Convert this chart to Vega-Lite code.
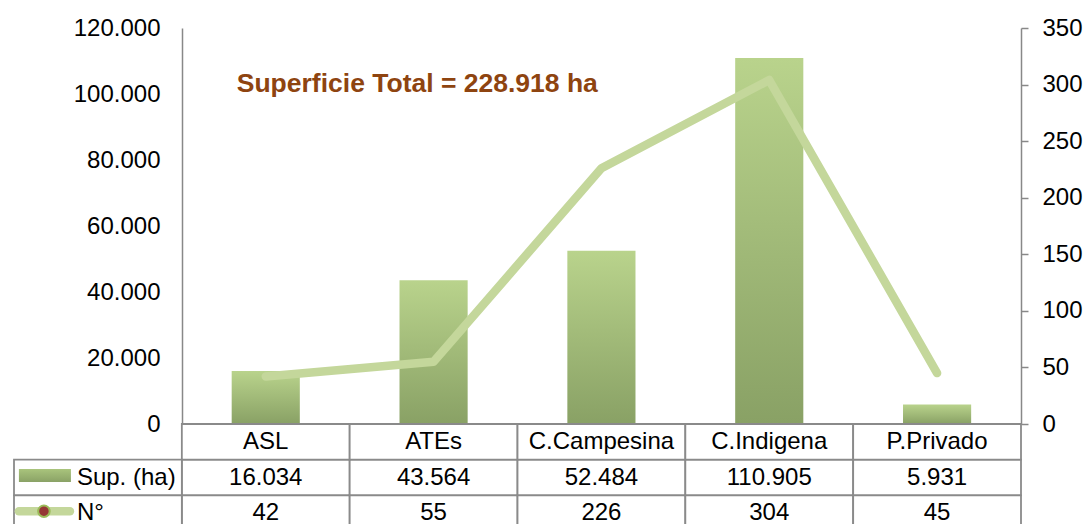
{
  "$schema": "https://vega.github.io/schema/vega-lite/v6.json",
  "padding": {"left": 1, "top": 16, "right": 0, "bottom": 0},
  "background": "white",
  "spacing": 0,
  "bounds": "flush",
  "datasets": {
    "main": [
      {"cat": "ASL", "sup": 16034, "n": 42},
      {"cat": "ATEs", "sup": 43564, "n": 55},
      {"cat": "C.Campesina", "sup": 52484, "n": 226},
      {"cat": "C.Indigena", "sup": 110905, "n": 304},
      {"cat": "P.Privado", "sup": 5931, "n": 45}
    ]
  },
  "config": {
    "view": {"stroke": null},
    "font": "Liberation Sans",
    "locale": {"number": {"decimal": ",", "thousands": ".", "grouping": [3], "currency": ["$", ""]}},
    "axis": {
      "labelFont": "Liberation Sans",
      "labelFontSize": 24,
      "labelColor": "#000000",
      "domainColor": "#888888",
      "domainWidth": 1.5,
      "tickColor": "#888888",
      "tickWidth": 1.5,
      "grid": false,
      "title": null
    }
  },
  "vconcat": [
    {
      "width": 1007,
      "height": 396,
      "data": {"name": "main"},
      "encoding": {
        "x": {
          "field": "cat",
          "type": "nominal",
          "sort": null,
          "scale": {"domain": ["_", "ASL", "ATEs", "C.Campesina", "C.Indigena", "P.Privado"], "paddingInner": 0, "paddingOuter": 0},
          "axis": null
        }
      },
      "layer": [
        {
          "layer": [
            {
              "mark": {
                "type": "bar",
                "width": {"band": 0.406},
                "color": {
                  "gradient": "linear",
                  "x1": 0, "y1": 0, "x2": 0, "y2": 1,
                  "stops": [
                    {"offset": 0, "color": "#b9d38c"},
                    {"offset": 1, "color": "#89a165"}
                  ]
                }
              },
              "encoding": {
                "y": {
                  "field": "sup",
                  "type": "quantitative",
                  "scale": {"domain": [0, 120000], "nice": false},
                  "axis": {
                    "orient": "left",
                    "offset": -168,
                    "ticks": false,
                    "labelPadding": 22,
                    "values": [0, 20000, 40000, 60000, 80000, 100000, 120000],
                    "format": ",d"
                  }
                }
              }
            },
            {
              "data": {"values": [{}]},
              "mark": {
                "type": "text",
                "text": "Superficie Total = 228.918 ha",
                "font": "Liberation Sans",
                "fontSize": 26.5,
                "fontWeight": "bold",
                "color": "#8e4410",
                "align": "left",
                "baseline": "middle",
                "dx": -29
              },
              "encoding": {
                "x": {"datum": "ASL", "type": "nominal"},
                "y": {"datum": 103000, "type": "quantitative"}
              }
            }
          ]
        },
        {
          "mark": {
            "type": "line",
            "color": "#c4d79b",
            "strokeWidth": 8.5,
            "strokeCap": "round",
            "strokeJoin": "round"
          },
          "encoding": {
            "y": {
              "field": "n",
              "type": "quantitative",
              "scale": {"domain": [0, 350], "nice": false},
              "axis": {
                "orient": "right",
                "tickSize": 7,
                "labelPadding": 14,
                "values": [0, 50, 100, 150, 200, 250, 300, 350]
              }
            }
          }
        }
      ],
      "resolve": {"scale": {"y": "independent"}, "axis": {"y": "independent"}}
    },
    {
      "width": 1007,
      "height": 107,
      "layer": [
        {
          "data": {"name": "main"},
          "transform": [{"fold": ["sup", "n"], "as": ["key", "value"]}],
          "encoding": {
            "x": {"field": "cat", "type": "nominal", "sort": null, "scale": {"domain": ["_", "ASL", "ATEs", "C.Campesina", "C.Indigena", "P.Privado"], "paddingInner": 0, "paddingOuter": 0}, "axis": null},
            "y": {"field": "key", "type": "nominal", "sort": null, "scale": {"domain": ["cat", "sup", "n"], "paddingInner": 0, "paddingOuter": 0}, "axis": null}
          },
          "layer": [
            {"mark": {"type": "rect", "fill": "white", "stroke": "#8a8a8a", "strokeWidth": 1.8}},
            {
              "mark": {"type": "text", "fontSize": 24, "font": "Liberation Sans", "color": "#000000", "baseline": "middle"},
              "encoding": {"text": {"field": "value", "type": "quantitative", "format": ",d"}}
            }
          ]
        },
        {
          "data": {"name": "main"},
          "encoding": {
            "x": {"field": "cat", "type": "nominal", "sort": null, "scale": {"domain": ["_", "ASL", "ATEs", "C.Campesina", "C.Indigena", "P.Privado"], "paddingInner": 0, "paddingOuter": 0}, "axis": null},
            "y": {"datum": "cat", "type": "nominal", "scale": {"domain": ["cat", "sup", "n"], "paddingInner": 0, "paddingOuter": 0}, "axis": null}
          },
          "layer": [
            {"mark": {"type": "rect", "fill": "white", "stroke": "#8a8a8a", "strokeWidth": 1.8}},
            {
              "mark": {"type": "text", "fontSize": 24, "font": "Liberation Sans", "color": "#000000", "baseline": "middle"},
              "encoding": {"text": {"field": "cat", "type": "nominal"}}
            }
          ]
        },
        {
          "data": {"values": [{"key": "sup", "label": "Sup. (ha)"}, {"key": "n", "label": "N°"}]},
          "encoding": {
            "x": {"datum": "_", "type": "nominal", "scale": {"domain": ["_", "ASL", "ATEs", "C.Campesina", "C.Indigena", "P.Privado"], "paddingInner": 0, "paddingOuter": 0}, "axis": null},
            "y": {"field": "key", "type": "nominal", "sort": null, "scale": {"domain": ["cat", "sup", "n"], "paddingInner": 0, "paddingOuter": 0}, "axis": null}
          },
          "layer": [
            {"mark": {"type": "rect", "fill": "white", "stroke": "#8a8a8a", "strokeWidth": 1.8}},
            {
              "mark": {"type": "text", "fontSize": 24, "font": "Liberation Sans", "color": "#000000", "baseline": "middle", "align": "left", "dx": -21},
              "encoding": {"text": {"field": "label", "type": "nominal"}}
            },
            {
              "transform": [{"filter": "datum.key == 'sup'"}],
              "mark": {
                "type": "point",
                "shape": "M-1,-0.25H1V0.25H-1Z",
                "size": 2704,
                "filled": true,
                "opacity": 1,
                "strokeWidth": 0,
                "xOffset": -53,
                "yOffset": -2,
                "color": {
                  "gradient": "linear",
                  "x1": 0, "y1": 0, "x2": 0, "y2": 1,
                  "stops": [
                    {"offset": 0, "color": "#a9c47c"},
                    {"offset": 1, "color": "#8aa266"}
                  ]
                }
              }
            },
            {
              "transform": [{"filter": "datum.key == 'n'"}],
              "mark": {
                "type": "point",
                "shape": "M-1,0H1",
                "size": 2601,
                "filled": false,
                "opacity": 1,
                "stroke": "#c4d79b",
                "strokeWidth": 8.5,
                "strokeCap": "round",
                "xOffset": -53.5,
                "yOffset": -2
              }
            },
            {
              "transform": [{"filter": "datum.key == 'n'"}],
              "mark": {
                "type": "point",
                "shape": "circle",
                "size": 133,
                "filled": true,
                "opacity": 1,
                "fill": "#953735",
                "stroke": "#9bbb59",
                "strokeWidth": 2,
                "xOffset": -54,
                "yOffset": -2
              }
            }
          ]
        }
      ]
    }
  ]
}
